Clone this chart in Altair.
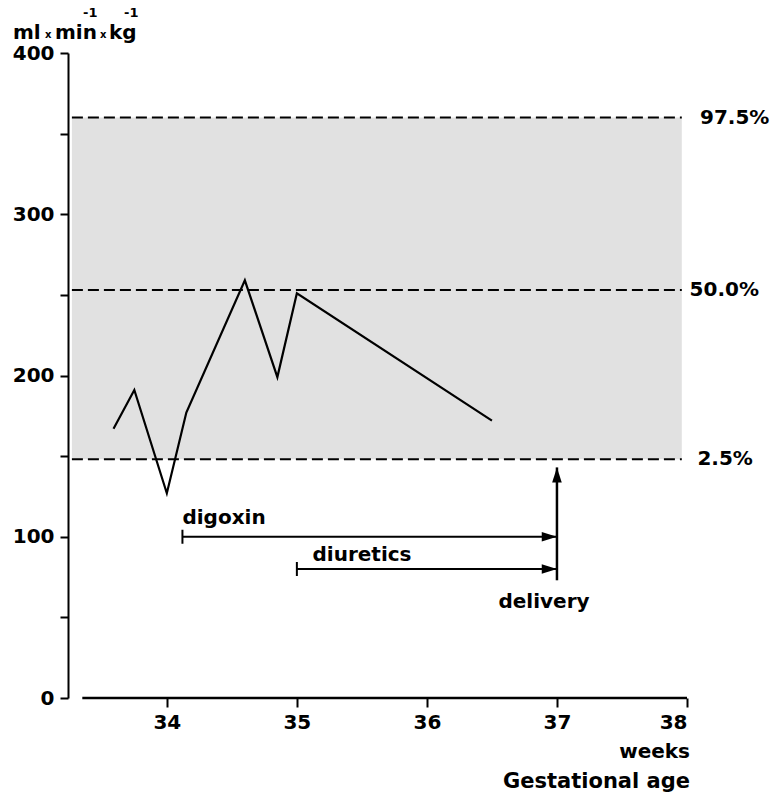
import altair as alt
import pandas as pd

# Blood flow measurements over gestational age
weeks = [33.59, 33.75, 34.0, 34.15, 34.6, 34.85, 35.0, 36.5]
flow = [167, 191, 127, 177, 259, 199, 251, 172]

# Reference range (percentiles)
pct_labels = ["97.5%", "50.0%", "2.5%"]
pct_values = [360, 253, 148]
pct_label_x = [38.1, 38.02, 38.08]
band_from, band_to = 33.27, 37.96

# Treatment periods, ending at delivery
treatments = ["digoxin", "diuretics"]
treat_start = [34.12, 35.0]
treat_level = [100, 80]
treat_label_x = [34.12, 35.12]
treat_label_y = [108, 85]
delivery_week = 37.0
delivery_low, delivery_high = 73, 143
delivery_label_x, delivery_label_y = 36.55, 56

x_ticks = [34, 35, 36, 37, 38]
y_ticks = [0, 50, 100, 150, 200, 250, 300, 350, 400]

FONT = "DejaVu Sans"

xs = alt.Scale(domain=[33.24, 38], nice=False, zero=False)
ys = alt.Scale(domain=[0, 400], nice=False, zero=False)

x_axis = alt.Axis(
    values=x_ticks, domain=False, grid=False, tickSize=9, tickWidth=2,
    tickColor="black", labelPadding=5, labelFont=FONT, labelFontSize=20,
    labelFontWeight="bold", labelColor="black", title=None,
)
y_axis = alt.Axis(
    values=y_ticks, grid=False, tickSize=8, tickWidth=2, tickColor="black",
    domainWidth=2, domainColor="black", labelPadding=6, labelFont=FONT,
    labelFontSize=20, labelFontWeight="bold", labelColor="black",
    labelExpr="datum.value % 100 === 0 ? datum.label : ''", title=None,
)


def X(field):
    return alt.X(field, type="quantitative", scale=xs, axis=x_axis)


def Y(field):
    return alt.Y(field, type="quantitative", scale=ys, axis=y_axis)


flow_df = pd.DataFrame({"week": weeks, "val": flow})
pct_df = pd.DataFrame({"label": pct_labels, "val": pct_values,
                       "x0": band_from, "x1": band_to, "lx": pct_label_x})
band_df = pd.DataFrame({"x0": [band_from], "x1": [band_to],
                        "lo": [min(pct_values)], "hi": [max(pct_values)]})
treat_df = pd.DataFrame({"name": treatments, "start": treat_start,
                         "end": delivery_week, "val": treat_level,
                         "lx": treat_label_x, "ly": treat_label_y})
delivery_df = pd.DataFrame({"week": [delivery_week], "lo": [delivery_low],
                            "hi": [delivery_high], "label": ["delivery"],
                            "lx": [delivery_label_x], "ly": [delivery_label_y]})
axis_df = pd.DataFrame({"x0": [33.35], "x1": [x_ticks[-1]], "val": [0]})

band = alt.Chart(band_df).mark_rect(color="#e1e1e1").encode(
    x=X("x0"), x2="x1", y=Y("lo"), y2="hi")

pct_lines = alt.Chart(pct_df).mark_rule(
    color="black", strokeWidth=2, strokeDash=[11, 5]).encode(
    x=X("x0"), x2="x1", y=Y("val"))

pct_text = alt.Chart(pct_df).mark_text(
    align="left", baseline="middle", font=FONT, fontSize=20,
    fontWeight="bold", color="black").encode(
    x=X("lx"), y=Y("val"), text="label")

flow_line = alt.Chart(flow_df).mark_line(
    color="black", strokeWidth=2.2).encode(x=X("week"), y=Y("val"))

treat_rules = alt.Chart(treat_df).mark_rule(
    color="black", strokeWidth=2).encode(x=X("start"), x2="end", y=Y("val"))

treat_starts = alt.Chart(treat_df).mark_point(
    shape="M0,-1L0,1", size=196, strokeWidth=2, color="black",
    filled=False, opacity=1).encode(x=X("start"), y=Y("val"))

treat_heads = alt.Chart(treat_df).mark_point(
    shape="M0,0L-1.9,-0.6L-1.9,0.6Z", size=256, filled=True,
    color="black", opacity=1, strokeWidth=0).encode(x=X("end"), y=Y("val"))

treat_text = alt.Chart(treat_df).mark_text(
    align="left", baseline="alphabetic", font=FONT, fontSize=20,
    fontWeight="bold", color="black").encode(
    x=X("lx"), y=Y("ly"), text="name")

delivery_rule = alt.Chart(delivery_df).mark_rule(
    color="black", strokeWidth=2.5).encode(x=X("week"), y=Y("lo"), y2="hi")

delivery_head = alt.Chart(delivery_df).mark_point(
    shape="M0,0L-0.6,1.9L0.6,1.9Z", size=256, filled=True,
    color="black", opacity=1, strokeWidth=0).encode(x=X("week"), y=Y("hi"))

delivery_text = alt.Chart(delivery_df).mark_text(
    align="left", baseline="alphabetic", font=FONT, fontSize=20,
    fontWeight="bold", color="black").encode(
    x=X("lx"), y=Y("ly"), text="label")

x_line = alt.Chart(axis_df).mark_rule(
    color="black", strokeWidth=2.5).encode(x=X("x0"), x2="x1", y=Y("val"))

# Unit label above the y axis and the x axis caption
text_style = dict(font=FONT, fontWeight="bold", color="black",
                  baseline="alphabetic", align="left")
unit_parts = [
    ("ml", -55, -14, 20), ("x", -23, -15, 10), ("min", -13, -14, 20),
    ("x", 32, -15, 10), ("kg", 41, -14, 20),
    ("-1", 15, -36, 13), ("-1", 56, -36, 13),
]
unit_layers = [
    alt.Chart(axis_df).mark_text(text=t, fontSize=fs, **text_style).encode(
        x=alt.value(px), y=alt.value(py))
    for t, px, py, fs in unit_parts
]

caption_style = dict(font=FONT, fontWeight="bold", color="black",
                     baseline="alphabetic", align="right")
weeks_text = alt.Chart(axis_df).mark_text(
    text="weeks", fontSize=20, **caption_style).encode(
    x=alt.value(622), y=alt.value(705))
ga_text = alt.Chart(axis_df).mark_text(
    text="Gestational age", fontSize=21, **caption_style).encode(
    x=alt.value(622), y=alt.value(735))

chart = alt.layer(
    band, pct_lines, pct_text, flow_line, treat_rules, treat_starts,
    treat_heads, treat_text, delivery_rule, delivery_head, delivery_text,
    x_line, weeks_text, ga_text, *unit_layers,
).properties(
    width=619, height=645,
    padding={"left": 68, "top": 53, "right": 87, "bottom": 96},
    autosize=alt.AutoSizeParams(type="none"),
    background="white",
).configure_view(stroke=None)

chart.save("out.html", embed_options={"renderer": "svg", "actions": False})
